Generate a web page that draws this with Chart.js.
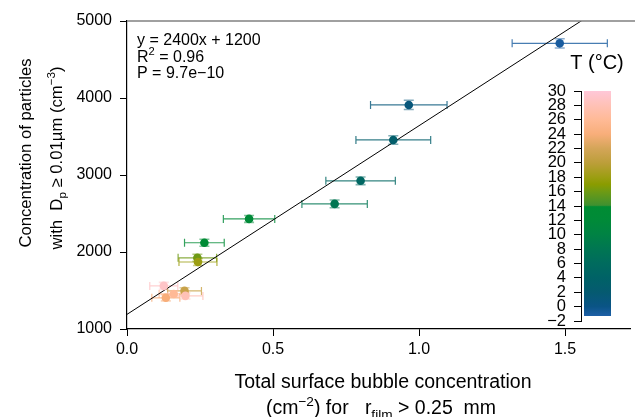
<!DOCTYPE html>
<html lang="en">
<head>
  <meta charset="UTF-8">
  <title>Particles vs bubble concentration</title>
  <script src="https://cdn.jsdelivr.net/npm/chart.js"></script>
  <style>
    body {
      margin: 0;
      background: #ffffff;
      overflow: hidden;
    }
    .wrap {
      position: relative;
      width: 635px;
      height: 417px;
    }
    #barCanvas {
      position: absolute;
      left: 530px;
      top: 80px;
    }
  </style>
</head>
<body>

<div class="wrap">
  <canvas id="mainChart" width="635" height="417"></canvas>
  <canvas id="barCanvas" width="84" height="250"></canvas>
</div>

<script>
  // measured points (x = bubble concentration, y = particle concentration)
  const xVals = [1.482, 0.965, 0.912, 0.800, 0.711, 0.418, 0.265, 0.241, 0.243, 0.126, 0.197, 0.160, 0.133, 0.200];
  const yVals = [4710, 3910, 3455, 2925, 2625, 2430, 2120, 1925, 1870, 1560, 1495, 1455, 1405, 1430];
  const xErr  = [0.163, 0.131, 0.128, 0.119, 0.112, 0.088, 0.068, 0.066, 0.065, 0.048, 0.058, 0.050, 0.048, 0.060];
  const yErr  = [60, 60, 55, 50, 50, 45, 45, 45, 45, 45, 40, 40, 40, 40];
  const temps = [-1, 1, 3, 5, 8, 12, 13, 16, 18, 29, 21, 26, 24, 28];

  // regression line
  const fitSlope = 2450;
  const fitIntercept = 1190;
  const fitText = ['y = 2400x + 1200', '0.96', '9.7e\u221210'];

  const xTicks = [0, 0.5, 1.0, 1.5];
  const yTicks = [1000, 2000, 3000, 4000, 5000];
  const xRange = [0, 1.725];
  const yRange = [1000, 5000];

  // colour bar
  const tRange = [-2, 30];
  const tBar = [-1.3, 30];
  const tStops = [-1.3, 0, 2, 4, 6, 8, 10, 12, 13.9, 14.1, 16, 17, 18, 20, 22, 24, 26, 28, 30];
  const tColors = ['#1e5fa6', '#0a5486', '#055a70', '#006266', '#006b5e', '#007652', '#008244', '#008a38', '#008c33',
                   '#3f9130', '#6e9a14', '#8a9c00', '#9c9e12', '#bc9e3a', '#d4a558', '#f8ae7a', '#ffba96', '#ffc1b6', '#ffc7d8'];

  function hexToRgb(h) {
    return [parseInt(h.slice(1, 3), 16), parseInt(h.slice(3, 5), 16), parseInt(h.slice(5, 7), 16)];
  }

  function tempColor(t, alpha = 1) {
    let i = 0;
    while (i < tStops.length - 2 && t > tStops[i + 1]) i++;
    const f = Math.min(1, Math.max(0, (t - tStops[i]) / (tStops[i + 1] - tStops[i])));
    const a = hexToRgb(tColors[i]), b = hexToRgb(tColors[i + 1]);
    const c = a.map((v, k) => Math.round(v + (b[k] - v) * f));
    return `rgba(${c[0]},${c[1]},${c[2]},${alpha})`;
  }

  const FONT = "'Liberation Sans', Arial, sans-serif";

  // draw text made of pieces (normal / sub / sup), centered or left aligned
  function drawRich(ctx, segs, x, y, size, align) {
    const parts = segs.map(s => {
      const sz = s.k ? size * 0.7 : size;
      ctx.font = `${sz}px ${FONT}`;
      return { t: s.t, sz: sz, dy: s.k === 'sup' ? -size * 0.42 : (s.k === 'sub' ? size * 0.25 : 0), w: ctx.measureText(s.t).width };
    });
    const total = parts.reduce((s, p) => s + p.w, 0);
    let cx = align === 'center' ? x - total / 2 : x;
    ctx.textAlign = 'left';
    ctx.textBaseline = 'alphabetic';
    parts.forEach(p => {
      ctx.font = `${p.sz}px ${FONT}`;
      ctx.fillText(p.t, cx, y + p.dy);
      cx += p.w;
    });
  }

  const errorBars = {
    id: 'errorBars',
    beforeDatasetsDraw(chart) {
      const ctx = chart.ctx;
      const xs = chart.scales.x, ys = chart.scales.y;
      ctx.save();
      xVals.forEach((x, i) => {
        const px = xs.getPixelForValue(x), py = ys.getPixelForValue(yVals[i]);
        const x0 = xs.getPixelForValue(x - xErr[i]), x1 = xs.getPixelForValue(x + xErr[i]);
        const y0 = ys.getPixelForValue(yVals[i] - yErr[i]), y1 = ys.getPixelForValue(yVals[i] + yErr[i]);
        ctx.lineWidth = 1.2;
        ctx.strokeStyle = tempColor(temps[i], 0.8);
        ctx.beginPath();
        ctx.moveTo(x0, py); ctx.lineTo(x1, py);
        ctx.moveTo(x0, py - 4); ctx.lineTo(x0, py + 4);
        ctx.moveTo(x1, py - 4); ctx.lineTo(x1, py + 4);
        ctx.stroke();
        ctx.lineWidth = 1.6;
        ctx.strokeStyle = tempColor(temps[i], 0.5);
        ctx.beginPath();
        ctx.moveTo(px, y0); ctx.lineTo(px, y1);
        ctx.moveTo(px - 5, y0); ctx.lineTo(px + 5, y0);
        ctx.moveTo(px - 5, y1); ctx.lineTo(px + 5, y1);
        ctx.stroke();
      });
      ctx.restore();
    }
  };

  const decorations = {
    id: 'decorations',
    afterDraw(chart) {
      const ctx = chart.ctx;
      const area = chart.chartArea;
      ctx.save();
      // top frame line
      ctx.strokeStyle = '#808080';
      ctx.lineWidth = 1.5;
      ctx.beginPath();
      ctx.moveTo(area.left, area.top);
      ctx.lineTo(chart.width, area.top);
      ctx.stroke();

      ctx.fillStyle = '#000';
      // fit statistics
      drawRich(ctx, [{ t: fitText[0] }], 137, 44.5, 16, 'left');
      drawRich(ctx, [{ t: 'R' }, { t: '2', k: 'sup' }, { t: ' = ' + fitText[1] }], 137, 61.5, 16, 'left');
      drawRich(ctx, [{ t: 'P = ' + fitText[2] }], 137, 78, 16, 'left');

      // colour bar title
      drawRich(ctx, [{ t: 'T (\u00b0C)' }], 597, 69, 20, 'center');

      // x title
      drawRich(ctx, [{ t: 'Total surface bubble concentration' }], 383, 388, 19.5, 'center');
      drawRich(ctx, [{ t: '(cm' }, { t: '\u22122', k: 'sup' }, { t: ') for   r' }, { t: 'film', k: 'sub' }, { t: ' > 0.25  mm' }], 381, 414, 19.5, 'center');

      // y title
      ctx.save();
      ctx.translate(31, 153);
      ctx.rotate(-Math.PI / 2);
      drawRich(ctx, [{ t: 'Concentration of particles' }], 0, 0, 16.7, 'center');
      ctx.restore();
      ctx.save();
      ctx.translate(62, 158);
      ctx.rotate(-Math.PI / 2);
      drawRich(ctx, [{ t: 'with  D' }, { t: 'p', k: 'sub' }, { t: ' \u2265 0.01\u00b5m (cm' }, { t: '\u22123', k: 'sup' }, { t: ')' }], 0, 0, 16.7, 'center');
      ctx.restore();
      ctx.restore();
    }
  };

  const mainCtx = document.getElementById('mainChart').getContext('2d');
  new Chart(mainCtx, {
    type: 'scatter',
    data: {
      datasets: [
        {
          label: 'fit',
          type: 'line',
          data: [{ x: xRange[0], y: fitIntercept + fitSlope * xRange[0] }, { x: xRange[1], y: fitIntercept + fitSlope * xRange[1] }],
          borderColor: '#000',
          borderWidth: 1,
          pointRadius: 0,
          fill: false,
          order: 2
        },
        {
          label: 'data',
          data: xVals.map((x, i) => ({ x: x, y: yVals[i] })),
          backgroundColor: temps.map(t => tempColor(t)),
          borderWidth: 0,
          pointRadius: 4.3,
          order: 1
        }
      ]
    },
    options: {
      responsive: false,
      animation: false,
      devicePixelRatio: 1,
      layout: { padding: { top: 21, right: 1, left: 0, bottom: 0 } },
      plugins: {
        legend: { display: false },
        tooltip: { enabled: false }
      },
      scales: {
        x: {
          type: 'linear',
          min: xRange[0],
          max: xRange[1],
          afterFit: s => { s.height = 88; },
          afterBuildTicks: s => { s.ticks = xTicks.map(v => ({ value: v })); },
          grid: { drawOnChartArea: false, drawTicks: true, tickLength: 7, color: '#000' },
          border: { display: true, color: '#000', width: 1.2 },
          ticks: {
            color: '#000',
            padding: 4,
            font: { family: FONT, size: 16 },
            callback: v => Number(v).toFixed(1)
          }
        },
        y: {
          type: 'linear',
          min: yRange[0],
          max: yRange[1],
          afterFit: s => { s.width = 127; },
          afterBuildTicks: s => { s.ticks = yTicks.map(v => ({ value: v })); },
          grid: { drawOnChartArea: false, drawTicks: true, tickLength: 7, color: '#000' },
          border: { display: true, color: '#000', width: 1.2 },
          ticks: {
            color: '#000',
            padding: 8,
            font: { family: FONT, size: 16 },
            callback: v => String(v)
          }
        }
      }
    },
    plugins: [errorBars, decorations]
  });

  // colour bar as a floating bar on its own temperature axis
  const barCtx = document.getElementById('barCanvas').getContext('2d');
  new Chart(barCtx, {
    type: 'bar',
    data: {
      labels: [''],
      datasets: [{
        data: [tBar],
        borderWidth: 0,
        barPercentage: 1,
        categoryPercentage: 27 / 33,
        backgroundColor: function(context) {
          const chart = context.chart;
          if (!chart.chartArea) return tColors[0];
          const ys = chart.scales.y;
          const p0 = ys.getPixelForValue(tBar[0]), p1 = ys.getPixelForValue(tBar[1]);
          const g = chart.ctx.createLinearGradient(0, p0, 0, p1);
          tStops.forEach((t, i) => g.addColorStop((t - tBar[0]) / (tBar[1] - tBar[0]), tColors[i]));
          return g;
        }
      }]
    },
    options: {
      responsive: false,
      animation: false,
      devicePixelRatio: 1,
      layout: { padding: { top: 11, bottom: 9, left: 0, right: 0 } },
      plugins: {
        legend: { display: false },
        tooltip: { enabled: false }
      },
      scales: {
        x: { display: false },
        y: {
          min: tRange[0],
          max: tRange[1],
          afterFit: s => { s.width = 51; s.paddingTop = 0; s.paddingBottom = 0; },
          grid: { drawOnChartArea: false, drawTicks: true, tickLength: 7, color: '#000' },
          border: { display: true, color: '#000', width: 1 },
          ticks: {
            stepSize: 2,
            autoSkip: false,
            color: '#000',
            padding: 8,
            font: { family: FONT, size: 16.5, lineHeight: 1 },
            callback: v => v < 0 ? '\u2212' + Math.abs(v) : String(v)
          }
        }
      }
    }
  });
</script>

</body>
</html>
